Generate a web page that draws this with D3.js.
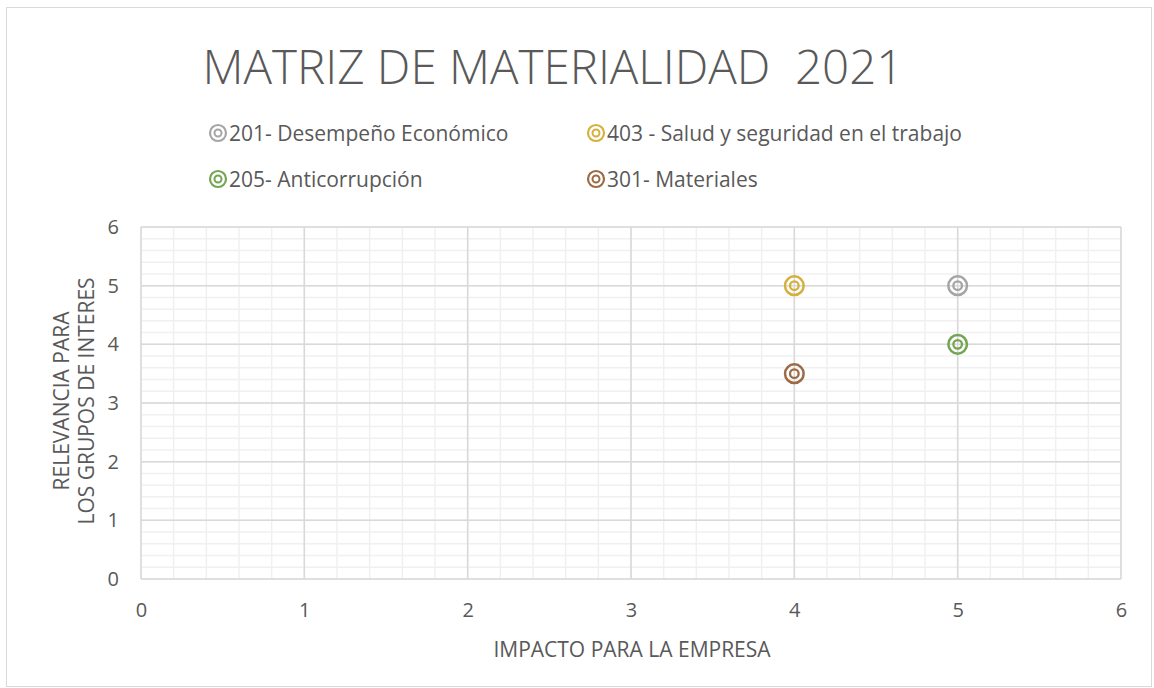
<!DOCTYPE html>
<html>
<head>
<meta charset="utf-8">
<script src="https://cdn.jsdelivr.net/npm/d3@7"></script>
<style>
  body { margin: 0; background: #fff; }
  text { font-family: "Open Sans", "Noto Sans", sans-serif; fill: #595959; white-space: pre; }
</style>
</head>
<body>
<div id="chart"></div>
<script>
// series data
var names = ["201- Desempeño Económico", "403 - Salud y seguridad en el trabajo", "205- Anticorrupción", "301- Materiales"];
var impacto = [5, 4, 5, 4];
var relevancia = [5, 5, 4, 3.5];
var colors = ["#a5a5a5", "#d4b03c", "#74a552", "#9c6a45"];
var ticks = [0, 1, 2, 3, 4, 5, 6];

const width = 1154, height = 688;
const margin = {left: 141, right: 33, top: 227, bottom: 109};

var svg = d3.select("#chart").append("svg")
  .attr("width", width)
  .attr("height", height);

// chart frame
svg.append("rect")
  .attr("x", 6.5).attr("y", 7.5)
  .attr("width", width - 9).attr("height", height - 9)
  .attr("fill", "none").attr("stroke", "#d9d9d9");

var x = d3.scaleLinear().domain([0, 6]).range([margin.left, width - margin.right]);
var y = d3.scaleLinear().domain([0, 6]).range([height - margin.bottom, margin.top]);

// minor gridlines
var minor = d3.range(0, 6.001, 0.2);
svg.append("g").selectAll("line")
  .data(minor).join("line")
  .attr("x1", d => x(d)).attr("x2", d => x(d))
  .attr("y1", y(0)).attr("y2", y(6))
  .attr("stroke", "#f0f0f0").attr("stroke-width", 1.5);
svg.append("g").selectAll("line")
  .data(minor).join("line")
  .attr("y1", d => y(d)).attr("y2", d => y(d))
  .attr("x1", x(0)).attr("x2", x(6))
  .attr("stroke", "#f0f0f0").attr("stroke-width", 1.5);

// major gridlines
svg.append("g").selectAll("line")
  .data(ticks).join("line")
  .attr("x1", d => x(d)).attr("x2", d => x(d))
  .attr("y1", y(0)).attr("y2", y(6))
  .attr("stroke", "#d9d9d9").attr("stroke-width", 1.5);
svg.append("g").selectAll("line")
  .data(ticks).join("line")
  .attr("y1", d => y(d)).attr("y2", d => y(d))
  .attr("x1", x(0)).attr("x2", x(6))
  .attr("stroke", "#d9d9d9").attr("stroke-width", 1.5);

// axes
var xAxis = svg.append("g")
  .attr("transform", `translate(0, ${y(0)})`)
  .call(d3.axisBottom(x).tickValues(ticks).tickFormat(d3.format("d")).tickSize(0).tickPadding(24));
var yAxis = svg.append("g")
  .attr("transform", `translate(${x(0)}, 0)`)
  .call(d3.axisLeft(y).tickValues(ticks).tickFormat(d3.format("d")).tickSize(0).tickPadding(22));
[xAxis, yAxis].forEach(function (a) {
  a.select(".domain").remove();
  a.selectAll("text").style("font-size", "20px").attr("fill", "#595959");
});

// markers
var pts = svg.append("g").selectAll("g")
  .data(names.map((n, i) => ({name: n, x: impacto[i], y: relevancia[i], c: colors[i]})))
  .join("g")
  .attr("transform", d => `translate(${x(d.x)}, ${y(d.y)})`);
pts.append("circle").attr("r", 9.3).attr("fill", "none").attr("stroke", d => d.c).attr("stroke-width", 2.5);
pts.append("circle").attr("r", 4.3).attr("fill", "none").attr("stroke", d => d.c).attr("stroke-width", 2.3);

// title
svg.append("text")
  .attr("x", 553).attr("y", 84)
  .attr("text-anchor", "middle")
  .style("font-size", "47.5px").style("font-weight", 300)
  .text("MATRIZ DE MATERIALIDAD  2021");

// legend
var legPos = [[218, 133], [596, 133], [218, 179], [596, 179]];
var leg = svg.append("g").selectAll("g")
  .data(names).join("g")
  .attr("transform", (d, i) => `translate(${legPos[i][0]}, ${legPos[i][1]})`);
leg.append("circle").attr("r", 8).attr("fill", "none").attr("stroke", (d, i) => colors[i]).attr("stroke-width", 2.2);
leg.append("circle").attr("r", 3.5).attr("fill", "none").attr("stroke", (d, i) => colors[i]).attr("stroke-width", 2);
leg.append("text")
  .attr("x", 11).attr("y", 7.5)
  .style("font-size", "21px")
  .text(d => d);

// axis titles
svg.append("text")
  .attr("x", 632).attr("y", 657)
  .attr("text-anchor", "middle")
  .style("font-size", "21px")
  .text("IMPACTO PARA LA EMPRESA");
var yt = svg.append("text")
  .attr("transform", "translate(69, 401) rotate(-90)")
  .attr("text-anchor", "middle")
  .style("font-size", "21px");
yt.append("tspan").attr("x", 0).attr("y", 0).text("RELEVANCIA PARA");
yt.append("tspan").attr("x", 0).attr("y", 25).text("LOS GRUPOS DE INTERES");
</script>
</body>
</html>
